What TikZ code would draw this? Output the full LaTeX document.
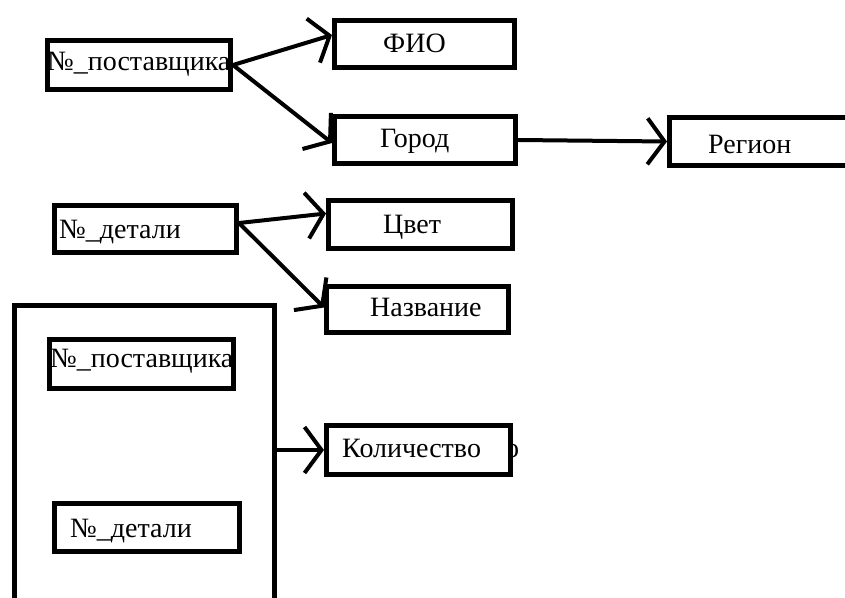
\documentclass[tikz,border=0pt]{standalone}
\usepackage{fontspec}
\setmainfont{Liberation Serif}
\usetikzlibrary{arrows.meta,calc}
\begin{document}
\begin{tikzpicture}[x=1pt,y=-1pt,
  box/.style={draw, line width=5pt, inner sep=0pt, rectangle},
  lbl/.style={anchor=base west, inner sep=0pt, font=\fontsize{28}{32}\selectfont\rmfamily},
  conn/.style={line width=4pt, -{Straight Barb[length=17pt,width=46pt]}}]
\useasboundingbox (0,0) rectangle (845,597);
\clip (0,0) rectangle (845,597);
% boxes
\node[box, minimum width=183pt, minimum height=49pt] (sup1) at (139,65) {};
\node[box, minimum width=180pt, minimum height=47pt] (fio) at (424.5,44) {};
\node[box, minimum width=181pt, minimum height=47pt] (gor) at (425,140) {};
\node[box, minimum width=198pt, minimum height=48pt] (reg) at (768.5,141.5) {};
\node[box, minimum width=182pt, minimum height=47pt] (det1) at (145.5,229) {};
\node[box, minimum width=184pt, minimum height=48pt] (cvet) at (420.5,224.5) {};
\node[box, minimum width=182pt, minimum height=46pt] (nazv) at (417.5,309.5) {};
\node[box, minimum width=260pt, minimum height=392pt] (big) at (144.5,501.5) {};
\node[box, minimum width=184pt, minimum height=49pt] (sup2) at (141.5,364) {};
\node[box, minimum width=185pt, minimum height=48pt] (det2) at (147,527.5) {};
\node[box, minimum width=184pt, minimum height=49pt] (kol) at (418.5,450) {};
% texts
\node[lbl] (t1) at (47,70) {№\_поставщика};
\node[lbl] (t2) at (383,52) {ФИО};
\node[lbl] (t3) at (380,147) {Город};
\node[lbl] (t4) at (708,153) {Регион};
\node[lbl] (t5) at (59,238) {№\_детали};
\node[lbl] (t6) at (383,233) {Цвет};
\node[lbl] (t7) at (370,316) {Название};
\node[lbl] (t8) at (50,367) {№\_поставщика};
\node[lbl] (t9) at (342,457) {Количество};
\node[lbl] (t10) at (70,537) {№\_детали};
\begin{scope}
\clip (510,420) rectangle (530,480);
\node[lbl] (t11) at (505,457) {о};
\end{scope}
% connectors
\draw[conn] (sup1.east) -- ([yshift=9pt]fio.west);
\draw[conn] (sup1.east) -- ([yshift=-3pt]gor.west);
\draw[conn] (gor.east) -- (reg.west);
\draw[conn] ([yshift=6pt]det1.east) -- ([yshift=11pt]cvet.west);
\draw[conn] ([yshift=6pt]det1.east) -- ([yshift=2pt]nazv.west);
\draw[conn] (kol.west -| big.east) -- (kol.west);
\end{tikzpicture}
\end{document}
